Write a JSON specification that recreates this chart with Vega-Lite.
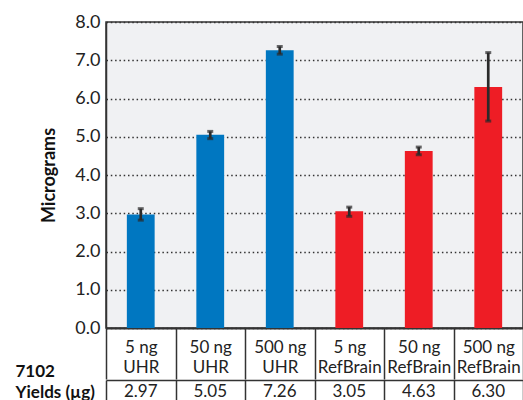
{
  "$schema": "https://vega.github.io/schema/vega-lite/v6.json",
  "padding": {"left": 15, "top": 12, "right": 0, "bottom": 0},
  "spacing": 52,
  "bounds": "flush",
  "background": "white",
  "config": {"font": "Lato", "axis": {"labelFont": "Lato", "titleFont": "Lato"}},
  "data": {"values": [
    {"cat": "5 ng UHR", "group": "UHR", "yield": 2.97, "lo": 2.82, "hi": 3.12, "row": "Yields (µg)"},
    {"cat": "50 ng UHR", "group": "UHR", "yield": 5.05, "lo": 4.95, "hi": 5.14, "row": "Yields (µg)"},
    {"cat": "500 ng UHR", "group": "UHR", "yield": 7.26, "lo": 7.16, "hi": 7.36, "row": "Yields (µg)"},
    {"cat": "5 ng RefBrain", "group": "RefBrain", "yield": 3.05, "lo": 2.92, "hi": 3.16, "row": "Yields (µg)"},
    {"cat": "50 ng RefBrain", "group": "RefBrain", "yield": 4.63, "lo": 4.53, "hi": 4.73, "row": "Yields (µg)"},
    {"cat": "500 ng RefBrain", "group": "RefBrain", "yield": 6.30, "lo": 5.41, "hi": 7.2, "row": "Yields (µg)"}
  ]},
  "vconcat": [
    {
      "width": 417,
      "height": 306,
      "view": {"fill": "#f0f1f3", "stroke": "#333", "strokeWidth": 1.5},
      "encoding": {
        "x": {
          "field": "cat", "type": "nominal", "sort": null,
          "scale": {"paddingInner": 0, "paddingOuter": 0},
          "axis": {
            "title": null, "orient": "bottom", "labelAngle": 0,
            "tickBand": "extent", "tickSize": 51, "tickColor": "#333", "tickWidth": 1.5,
            "domainColor": "#333", "domainWidth": 2,
            "labelExpr": "[slice(datum.label, 0, indexof(datum.label, 'ng') + 2), slice(datum.label, indexof(datum.label, 'ng') + 3)]",
            "labelFontSize": 17, "labelLineHeight": 20, "labelPadding": -40,
            "labelColor": "#222", "labelBaseline": "top"
          }
        }
      },
      "layer": [
        {
          "mark": {"type": "bar", "width": {"band": 0.4}},
          "encoding": {
            "y": {
              "field": "yield", "type": "quantitative", "title": "Micrograms",
              "scale": {"domain": [0, 8], "nice": false},
              "axis": {
                "title": "Micrograms", "values": [0, 1, 2, 3, 4, 5, 6, 7, 8], "format": ".1f",
                "grid": true, "gridDash": [1.5, 2.8], "gridColor": "#333", "gridWidth": 1.5,
                "ticks": false, "domainColor": "#333", "domainWidth": 1.5,
                "labelFontSize": 18, "labelColor": "#222", "labelPadding": 6,
                "titleFontSize": 18, "titleFontWeight": "bold", "titleColor": "#111", "titlePadding": 16
              }
            },
            "color": {
              "field": "group", "type": "nominal",
              "scale": {"domain": ["UHR", "RefBrain"], "range": ["#0077c1", "#ee1d25"]},
              "legend": null
            }
          }
        },
        {
          "mark": {"type": "errorbar", "color": "#2a2a2a", "thickness": 2.7, "ticks": {"size": 6, "thickness": 3, "color": "#2a2a2a"}},
          "encoding": {
            "y": {
              "field": "lo", "type": "quantitative", "title": "Micrograms",
              "axis": {
                "title": "Micrograms", "values": [0, 1, 2, 3, 4, 5, 6, 7, 8], "format": ".1f",
                "grid": true, "gridDash": [1.5, 2.8], "gridColor": "#333", "gridWidth": 1.5,
                "ticks": false, "domainColor": "#333", "domainWidth": 1.5,
                "labelFontSize": 18, "labelColor": "#222", "labelPadding": 6,
                "titleFontSize": 18, "titleFontWeight": "bold", "titleColor": "#111", "titlePadding": 16
              }
            },
            "y2": {"field": "hi"}
          }
        }
      ]
    },
    {
      "width": 417,
      "height": 20,
      "view": {"stroke": null},
      "mark": {"type": "text", "fontSize": 17, "font": "Lato", "color": "#222", "dy": 2},
      "encoding": {
        "x": {
          "field": "cat", "type": "nominal", "sort": null,
          "scale": {"paddingInner": 0, "paddingOuter": 0},
          "axis": {
            "orient": "top", "title": null, "labels": false, "ticks": false,
            "domain": true, "domainColor": "#333", "domainWidth": 1.5,
            "grid": true, "tickBand": "extent", "gridColor": "#333", "gridWidth": 1.5
          }
        },
        "y": {
          "field": "row", "type": "nominal",
          "axis": {
            "labels": false, "ticks": false, "domain": false,
            "title": ["7102", "Yields (µg)"], "titleAngle": 0, "titleAlign": "left",
            "titleBaseline": "alphabetic", "titleX": -91, "titleY": -4,
            "titleFontSize": 17, "titleFontWeight": "bold", "titleLineHeight": 21, "titleColor": "#111"
          }
        },
        "text": {"field": "yield", "type": "quantitative", "format": ".2f"}
      }
    }
  ]
}
